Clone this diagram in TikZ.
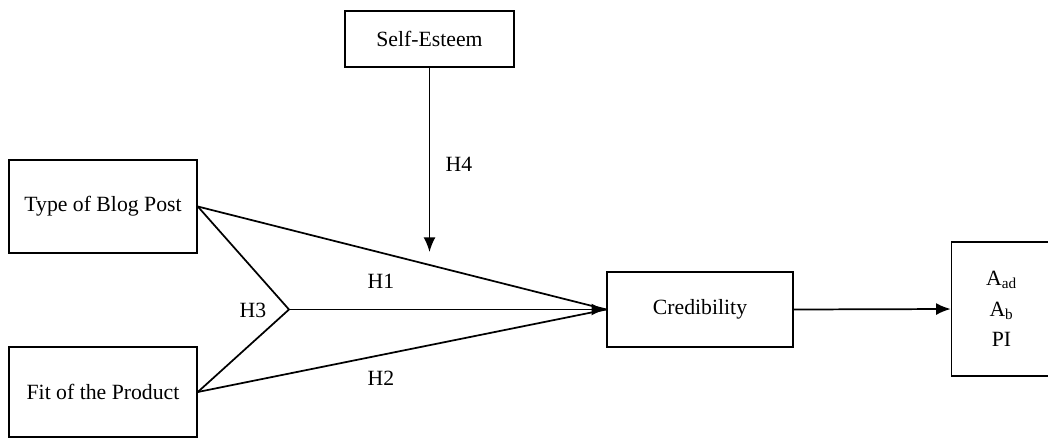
\documentclass[tikz,border=0pt]{standalone}
\usepackage{fontspec}
\setmainfont{Liberation Serif}
\usetikzlibrary{arrows.meta}
\begin{document}
\begin{tikzpicture}[x=0.75pt,y=-0.75pt,
  box/.style={draw,line width=1.2pt,rectangle,inner sep=0pt,font=\fontsize{16.3}{23}\selectfont,align=center},
  conn/.style={line width=1.3pt},
  arr/.style={line width=1.3pt,-{Latex[length=11pt,width=9pt]}},
  lbl/.style={font=\fontsize{16.3}{19}\selectfont,inner sep=0pt}]
\fill[white] (0,0) rectangle (1048,440);
\useasboundingbox (0,0) rectangle (1048,440);
\node[box,minimum width=141pt,minimum height=69.75pt] (type) at (103,206.5) {Type of Blog Post};
\node[box,minimum width=141pt,minimum height=67.5pt] (fit) at (103,392) {Fit of the Product};
\node[box,minimum width=126.75pt,minimum height=42pt] (self) at (429.5,39) {Self-Esteem};
\node[box,minimum width=139.5pt,minimum height=56.25pt] (cred) at (700,309.5) {Credibility};
\node[box,minimum width=75pt,minimum height=100.5pt] (out) at (1001.5,309) {A\textsubscript{ad}\\A\textsubscript{b}\\PI};
\coordinate (v) at (289,309.5);
\coordinate (h4end) at (429.5,252);
\draw[conn] (type.east) -- (cred.west);
\draw[conn] (fit.east) -- (cred.west);
\draw[conn,line join=miter] (type.east) -- (v) -- (fit.east);
\draw[arr] (v) -- (cred.west);
\draw[arr] (self.south) -- (h4end);
\draw[arr] (cred.east) -- (out.west);
\node[lbl] (h1) at (381,281) {H1};
\node[lbl] (h2) at (381,378) {H2};
\node[lbl] (h3) at (253,310) {H3};
\node[lbl] (h4) at (459,164) {H4};
\end{tikzpicture}
\end{document}
